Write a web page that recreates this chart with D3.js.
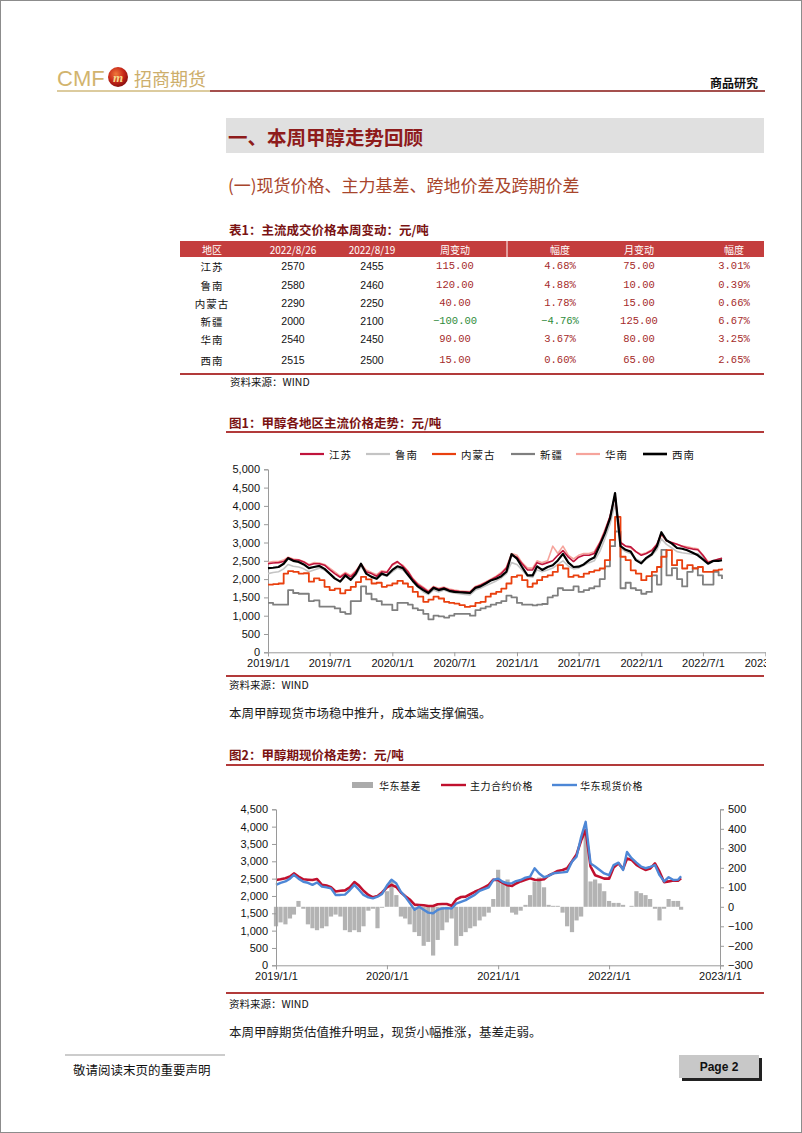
<!DOCTYPE html>
<html><head><meta charset="utf-8">
<script src="https://cdn.jsdelivr.net/npm/d3@7"></script>
<style>
body{margin:0;background:#fff;}
svg{display:block;}
text{font-family:"Noto Sans CJK SC","Noto Sans",sans-serif;}
</style></head><body>
<svg id="page" width="802" height="1133"></svg>
<script>
// ---------------- DATA ----------------
// table
const regions   = ["江苏","鲁南","内蒙古","新疆","华南","西南"];
const tableHead = ["地区","2022/8/26","2022/8/19","周变动","幅度","月变动","幅度"];
const price0826 = [2570,2580,2290,2000,2540,2515];
const price0819 = [2455,2460,2250,2100,2450,2500];
const weekChg   = [115,120,40,-100,90,15];
const weekPct   = [4.68,4.88,1.78,-4.76,3.67,0.60];
const monthChg  = [75,10,15,125,80,65];
const monthPct  = [3.01,0.39,0.66,6.67,3.25,2.65];

// sample dates: 1st and 16th of each month 2019/1 .. 2022/8, plus 2022/8/26
const dates = [];
for (let y = 2019; y <= 2022; y++) for (let m = 0; m < 12; m++) {
  if (y === 2022 && m > 7) break;
  dates.push(new Date(y, m, 1), new Date(y, m, 16));
}
dates.push(new Date(2022, 7, 26));

// Fig 1 series (元/吨)
const jiangsu = [2420,2440,2450,2480,2580,2530,2520,2470,2380,2420,2420,2380,2260,2150,2050,2150,2060,2200,2400,2200,2150,2080,2200,2180,
 2400,2480,2350,2200,2000,1850,1750,1650,1780,1720,1760,1700,1680,1660,1650,1640,1780,1830,1900,1980,2060,2150,2300,2650,
 2600,2420,2250,2250,2450,2400,2450,2500,2650,2780,2600,2480,2600,2650,2650,2700,2980,3300,3700,4300,3000,2900,2880,2750,
 2650,2700,2780,2950,3250,3050,3000,2950,2900,2850,2820,2800,2650,2450,2500,2550,2570];
const lunan = [2150,2180,2200,2280,2400,2350,2330,2280,2200,2250,2300,2250,2150,2000,1950,2080,2000,2100,2350,2150,2080,2000,2120,2080,
 2200,2300,2250,2100,1950,1780,1650,1580,1700,1650,1700,1650,1620,1600,1580,1570,1700,1750,1820,1880,1950,2030,2150,2450,
 2400,2250,2080,2050,2250,2200,2250,2300,2400,2500,2350,2280,2300,2380,2450,2500,2750,3100,3500,4050,2850,2750,2700,2550,
 2480,2550,2650,2800,3100,2950,2850,2750,2720,2700,2680,2700,2600,2450,2480,2520,2580];
const neimenggu = [1850,1860,1880,2150,2220,2200,2150,2160,1930,2020,1970,1790,1700,1740,1610,1700,1790,1920,2060,1990,1880,1900,1790,1830,
 1880,1950,1880,1790,1650,1520,1380,1440,1520,1470,1380,1350,1330,1290,1240,1260,1350,1380,1520,1600,1650,1740,1880,2060,
 2100,1970,1790,1880,1970,2060,2100,2200,2380,2290,2060,2100,2060,2150,2200,2240,2290,2520,3070,3700,2610,2520,2240,2150,
 1970,2080,2200,2330,2610,2790,2380,2520,2290,2380,2290,2330,2200,2200,2240,2260,2290];
const xinjiang = [1350,1300,1300,1300,1700,1620,1600,1600,1400,1420,1250,1250,1250,1200,1100,1050,1400,1400,1800,1600,1450,1400,1300,1300,
 1150,1350,1350,1300,1200,1150,1050,900,1000,980,950,1000,1050,1050,1050,1000,1150,1200,1250,1300,1350,1400,1550,1500,
 1350,1300,1300,1280,1300,1320,1500,1550,1750,1700,1700,1800,1650,1700,1750,1800,2000,2350,2900,3300,1750,1900,1750,1700,
 1600,1650,2100,1850,2800,2100,2300,2000,1800,2200,2300,2100,1850,1850,2200,2100,2000];
const huanan = [2450,2480,2480,2520,2600,2550,2530,2480,2400,2450,2440,2400,2300,2200,2080,2180,2100,2230,2420,2250,2180,2120,2230,2200,
 2380,2450,2380,2220,2020,1880,1780,1680,1800,1750,1780,1730,1700,1680,1670,1660,1800,1850,1920,2000,2080,2180,2320,2700,
 2650,2450,2300,2300,2500,2450,2500,2900,2700,2900,2650,2550,2650,2700,2700,2750,3000,3350,3700,4250,3000,2900,2850,2750,
 2680,2720,2800,2950,3200,3050,2980,2950,2900,2880,2850,2830,2650,2480,2500,2520,2540];
const xinan = [2300,2310,2330,2420,2570,2500,2470,2400,2300,2330,2360,2280,2150,2020,1930,2100,1980,2150,2420,2150,2060,2010,2150,2100,
 2250,2350,2300,2120,1950,1800,1700,1620,1760,1700,1740,1680,1650,1640,1630,1620,1760,1800,1880,1960,2010,2080,2200,2680,
 2560,2330,2100,2100,2350,2250,2330,2380,2510,2690,2450,2330,2340,2400,2520,2590,2920,3250,3650,4350,2900,2800,2750,2520,
 2430,2580,2680,2900,3280,3060,2970,2850,2830,2790,2720,2650,2540,2420,2500,2500,2515];

// Fig 2 series
const futures = [2460,2480,2510,2560,2650,2560,2480,2470,2460,2490,2320,2300,2250,2130,2150,2160,2250,2400,2300,2150,2030,1960,2000,2100,
 2250,2320,2260,2100,2000,1900,1750,1740,1730,1710,1710,1760,1770,1770,1720,1900,1970,1980,2050,2120,2180,2250,2320,2470,
 2460,2380,2310,2290,2360,2420,2470,2510,2470,2460,2480,2590,2650,2720,2750,2800,3000,3200,3600,3900,2850,2600,2550,2500,
 2500,2820,2940,2780,3080,3040,2900,2820,2750,2790,2940,2700,2400,2420,2450,2440,2510];
const spotEast = [2320,2380,2420,2500,2610,2500,2410,2380,2320,2390,2270,2250,2220,2030,2030,2040,2170,2320,2180,2030,1960,1930,1980,2060,
 2300,2470,2360,2120,1980,1800,1600,1690,1600,1520,1500,1600,1640,1650,1640,1780,1830,1880,1960,2030,2150,2200,2250,2460,
 2500,2410,2360,2370,2430,2460,2530,2560,2800,2650,2540,2580,2650,2670,2680,2700,2990,3130,3700,4140,2940,2850,2750,2650,
 2600,2890,2960,2750,3270,3090,2960,2850,2800,2840,2890,2600,2420,2540,2460,2470,2570];
const basisEast = [-100,-80,-90,-60,-40,30,-10,-90,-110,-120,-110,-100,-50,-40,-50,-120,-130,-120,-130,-100,-20,-10,-110,-5,
 80,137,60,-50,-60,-90,-130,-150,-200,-180,-250,-170,-120,-80,-60,-200,-150,-130,-110,-100,-70,-50,-30,40,
 190,120,140,-30,-40,-20,10,60,130,150,100,10,5,5,-30,-100,-130,-70,-50,400,130,140,120,80,
 30,20,20,10,0,5,80,70,60,40,-10,-70,-10,40,30,30,-15];

const fig1Ticks  = [0,500,1000,1500,2000,2500,3000,3500,4000,4500,5000];
const fig1Dates  = ["2019-01-01","2019-07-01","2020-01-01","2020-07-01","2021-01-01","2021-07-01","2022-01-01","2022-07-01","2023-01-01"];
const fig2LTicks = [0,500,1000,1500,2000,2500,3000,3500,4000,4500];
const fig2RTicks = [-300,-200,-100,0,100,200,300,400,500];
const fig2Dates  = ["2019-01-01","2020-01-01","2021-01-01","2022-01-01","2023-01-01"];

// ---------------- DRAW ----------------
const svg = d3.select("#page");
const defs = svg.append("defs");
const parse = d3.timeParse("%Y-%m-%d");
const fmtDate = d3.timeFormat("%Y/%-m/%-d");
const DARKRED = "#8E1B1B";
const RULE = "#B23A3A";

function txt(x, y, s, o = {}) {
  return svg.append("text").attr("x", x).attr("y", y)
    .attr("dominant-baseline", "central")
    .attr("text-anchor", o.anchor || "start")
    .attr("font-size", o.size || 12)
    .attr("font-weight", o.weight || "normal")
    .attr("fill", o.fill || "#111")
    .style("font-family", o.font || null)
    .style("letter-spacing", o.ls || null)
    .text(s);
}
function hline(x1, x2, y, color, w) {
  svg.append("line").attr("x1", x1).attr("x2", x2).attr("y1", y).attr("y2", y)
    .attr("stroke", color).attr("stroke-width", w);
}

// page border
svg.append("rect").attr("x", 0.5).attr("y", 0.5).attr("width", 801).attr("height", 1132)
  .attr("fill", "none").attr("stroke", "#8c8c8c");

// header
txt(57, 78, "CMF", {size: 22, fill: "#D2B46E", font: "'Liberation Sans Narrow','Liberation Sans',sans-serif"});
const grad = defs.append("radialGradient").attr("id", "ball").attr("cx", "40%").attr("cy", "35%").attr("r", "65%");
grad.append("stop").attr("offset", "0%").attr("stop-color", "#F07A3A");
grad.append("stop").attr("offset", "60%").attr("stop-color", "#C8281A");
grad.append("stop").attr("offset", "100%").attr("stop-color", "#8A1010");
svg.append("circle").attr("cx", 118).attr("cy", 77).attr("r", 10).attr("fill", "url(#ball)");
txt(118, 77, "m", {size: 13, anchor: "middle", weight: "bold", fill: "#F6D98A", font: "'Liberation Serif',serif"}).attr("font-style", "italic");
txt(134, 78, "招商期货", {size: 18, fill: "#CDAE6B"});
hline(57, 210, 91, "#DCCB9E", 2);
hline(210, 765, 91, "#A5504E", 2);
txt(758, 82, "商品研究", {size: 12, anchor: "end", weight: "bold", fill: "#111"});

// section titles
svg.append("rect").attr("x", 226).attr("y", 118).attr("width", 538).attr("height", 35).attr("fill", "#E0E0E0");
txt(228, 136, "一、本周甲醇走势回顾", {size: 19.5, weight: "bold", fill: DARKRED});
txt(228, 184, "(一)现货价格、主力基差、跨地价差及跨期价差", {size: 17, fill: "#A8452C"});

// table
txt(229, 229, "表1：主流成交价格本周变动：元/吨", {size: 12.5, weight: "bold", fill: "#7A1212"});
svg.append("rect").attr("x", 180).attr("y", 241).attr("width", 584).attr("height", 16).attr("fill", "#C43E3E");
const colX = [212, 293, 372, 455, 560, 639, 734];
svg.append("line").attr("x1", 507).attr("x2", 507).attr("y1", 241).attr("y2", 257).attr("stroke", "#fff").attr("stroke-width", 1);
tableHead.forEach((h, i) => txt(colX[i], 249, h, {size: 10, anchor: "middle", fill: "#fff"}));
const rowY = [266, 285, 303, 321, 339, 360];
const f2 = d3.format(".2f");
const numFont = "'Liberation Sans',Arial,sans-serif";
const monoFont = "'Liberation Mono','DejaVu Sans Mono',monospace";
regions.forEach((r, i) => {
  const y = rowY[i];
  txt(colX[0], y, r, {size: 10.5, anchor: "middle", ls: "1px"});
  txt(colX[1], y, price0826[i], {size: 10.5, anchor: "middle", font: numFont});
  txt(colX[2], y, price0819[i], {size: 10.5, anchor: "middle", font: numFont});
  const c1 = weekChg[i] < 0 ? "#2E8B3A" : "#A52A2A";
  txt(colX[3], y, f2(weekChg[i]), {size: 10.5, anchor: "middle", font: monoFont, fill: c1});
  txt(colX[4], y, f2(weekPct[i]) + "%", {size: 10.5, anchor: "middle", font: monoFont, fill: weekPct[i] < 0 ? "#2E8B3A" : "#A52A2A"});
  txt(colX[5], y, f2(monthChg[i]), {size: 10.5, anchor: "middle", font: monoFont, fill: "#A52A2A"});
  txt(colX[6], y, f2(monthPct[i]) + "%", {size: 10.5, anchor: "middle", font: monoFont, fill: "#A52A2A"});
});
hline(180, 764, 374, RULE, 2);
txt(230, 381, "资料来源：WIND", {size: 10.5});

// ---------------- FIG 1 ----------------
txt(229, 422, "图1：甲醇各地区主流价格走势：元/吨", {size: 12.5, weight: "bold", fill: "#7A1212"});
hline(226, 764, 432, RULE, 2);

const x1 = d3.scaleTime().domain([parse("2019-01-01"), parse("2023-01-01")]).range([268, 765.6]);
const y1 = d3.scaleLinear().domain([0, 5000]).range([652.3, 469.3]);

defs.append("clipPath").attr("id", "clip1").append("rect").attr("x", 200).attr("y", 440).attr("width", 566).attr("height", 240);

const gAx1 = svg.append("g").attr("clip-path", "url(#clip1)");
const yAxis1 = gAx1.append("g").attr("transform", "translate(268,0)")
  .call(d3.axisLeft(y1).tickValues(fig1Ticks).tickFormat(d3.format(",")).tickSize(4).tickPadding(4));
const xAxis1 = gAx1.append("g").attr("transform", "translate(0,652.3)")
  .call(d3.axisBottom(x1).tickValues(fig1Dates.map(parse)).tickFormat(fmtDate).tickSize(4).tickPadding(3));
[yAxis1, xAxis1].forEach(a => {
  a.select(".domain").attr("stroke", "#9a9a9a");
  a.selectAll(".tick line").attr("stroke", "#9a9a9a");
  a.selectAll("text").attr("font-size", 11).attr("fill", "#111").style("font-family", numFont);
});

const fig1Series = [
  {name: "江苏", vals: jiangsu, color: "#C0143C", w: 1.6, order: 4},
  {name: "鲁南", vals: lunan, color: "#C4C4C4", w: 1.6, order: 1},
  {name: "内蒙古", vals: neimenggu, color: "#E9400F", w: 1.8, order: 3, step: true},
  {name: "新疆", vals: xinjiang, color: "#7F7F7F", w: 1.8, order: 0, step: true},
  {name: "华南", vals: huanan, color: "#F6A49C", w: 1.6, order: 2},
  {name: "西南", vals: xinan, color: "#000000", w: 2.2, order: 5}
];
[...fig1Series].sort((a, b) => a.order - b.order).forEach(s => {
  const line = d3.line().x((d, i) => x1(dates[i])).y(d => y1(d))
    .curve(s.step ? d3.curveStepAfter : d3.curveLinear);
  svg.append("path").attr("d", line(s.vals)).attr("fill", "none")
    .attr("stroke", s.color).attr("stroke-width", s.w).attr("stroke-linejoin", "round");
});

// legend 1
const leg1X = [300, 366, 432, 511, 576, 643];
fig1Series.forEach((s, i) => {
  svg.append("line").attr("x1", leg1X[i]).attr("x2", leg1X[i] + 24).attr("y1", 454).attr("y2", 454)
    .attr("stroke", s.color).attr("stroke-width", s.name === "西南" ? 2.6 : 2.2);
  txt(leg1X[i] + 29, 454, s.name, {size: 10.5, ls: "1px"});
});

hline(226, 764, 676, RULE, 2);
txt(229, 684, "资料来源：WIND", {size: 10.5});
txt(229, 712, "本周甲醇现货市场稳中推升，成本端支撑偏强。", {size: 12.5, fill: "#1a1a1a"});

// ---------------- FIG 2 ----------------
txt(229, 754, "图2：甲醇期现价格走势：元/吨", {size: 12.5, weight: "bold", fill: "#7A1212"});
hline(226, 764, 765, RULE, 2);

const x2 = d3.scaleTime().domain([parse("2019-01-01"), parse("2023-01-01")]).range([276, 720]);
const y2 = d3.scaleLinear().domain([0, 4500]).range([965.3, 809.3]);
const y2r = d3.scaleLinear().domain([-300, 500]).range([965.3, 809.3]);

// basis bars
svg.append("g").selectAll("rect").data(basisEast).join("rect")
  .attr("x", (d, i) => x2(dates[i]) - 2.1)
  .attr("width", 4.2)
  .attr("y", d => Math.min(y2r(0), y2r(d)))
  .attr("height", d => Math.abs(y2r(d) - y2r(0)))
  .attr("fill", "#B3B3B3");

const line2 = vals => d3.line().x((d, i) => x2(dates[i])).y(d => y2(d))(vals);
svg.append("path").attr("d", line2(futures)).attr("fill", "none").attr("stroke", "#C0102E").attr("stroke-width", 2.6).attr("stroke-linejoin", "round");
svg.append("path").attr("d", line2(spotEast)).attr("fill", "none").attr("stroke", "#4D87D6").attr("stroke-width", 2.4).attr("stroke-linejoin", "round");

const yL = svg.append("g").attr("transform", "translate(276,0)")
  .call(d3.axisLeft(y2).tickValues(fig2LTicks).tickFormat(d3.format(",")).tickSize(4).tickPadding(4));
const yR = svg.append("g").attr("transform", "translate(720,0)")
  .call(d3.axisRight(y2r).tickValues(fig2RTicks).tickSize(4).tickPadding(4));
const xA2 = svg.append("g").attr("transform", "translate(0,965.3)")
  .call(d3.axisBottom(x2).tickValues(fig2Dates.map(parse)).tickFormat(fmtDate).tickSize(4).tickPadding(3));
[yL, yR, xA2].forEach(a => {
  a.select(".domain").attr("stroke", "#9a9a9a");
  a.selectAll(".tick line").attr("stroke", "#9a9a9a");
  a.selectAll("text").attr("font-size", 11).attr("fill", "#111").style("font-family", numFont);
});

// legend 2
svg.append("rect").attr("x", 352).attr("y", 782).attr("width", 21).attr("height", 6).attr("fill", "#ABABAB");
txt(379, 785, "华东基差", {size: 10, ls: "0.5px"});
svg.append("line").attr("x1", 441).attr("x2", 466).attr("y1", 785).attr("y2", 785).attr("stroke", "#C0102E").attr("stroke-width", 2.4);
txt(470, 785, "主力合约价格", {size: 10, ls: "0.5px"});
svg.append("line").attr("x1", 552).attr("x2", 577).attr("y1", 785).attr("y2", 785).attr("stroke", "#4D87D6").attr("stroke-width", 2.4);
txt(580, 785, "华东现货价格", {size: 10, ls: "0.5px"});

hline(226, 764, 993, RULE, 2);
txt(229, 1003, "资料来源：WIND", {size: 10.5});
txt(229, 1031, "本周甲醇期货估值推升明显，现货小幅推涨，基差走弱。", {size: 12.5, fill: "#1a1a1a"});

// footer
hline(65, 225, 1055, "#9a9a9a", 1.2);
txt(73, 1069, "敬请阅读末页的重要声明", {size: 12.5, fill: "#111"});
svg.append("rect").attr("x", 682).attr("y", 1058).attr("width", 80).attr("height", 23).attr("fill", "#222");
svg.append("rect").attr("x", 679).attr("y", 1055).attr("width", 80).attr("height", 23).attr("fill", "#C8C8C8");
txt(719, 1067, "Page  2", {size: 12, anchor: "middle", weight: "bold", font: numFont});
</script>
</body></html>
